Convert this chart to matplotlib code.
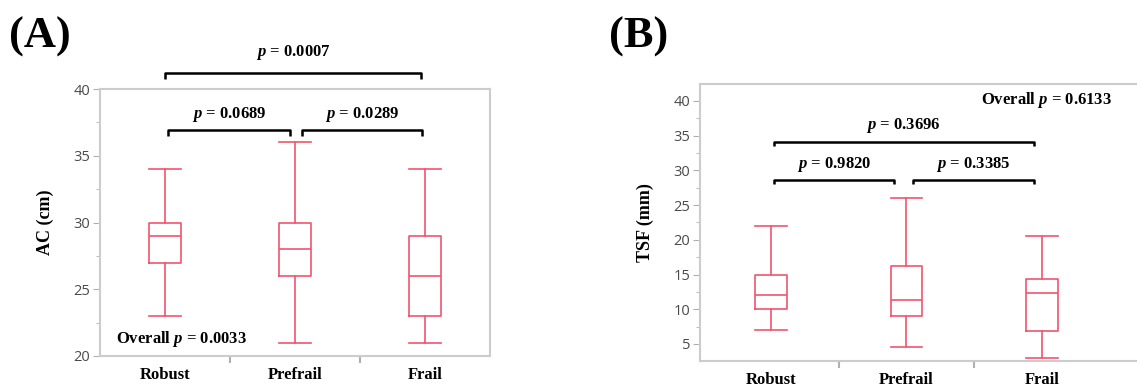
import matplotlib.pyplot as plt
from matplotlib.ticker import MultipleLocator, FixedLocator

plt.rcParams['mathtext.fontset'] = 'custom'
plt.rcParams['mathtext.it'] = 'Liberation Serif:italic:bold'
plt.rcParams['mathtext.rm'] = 'Liberation Serif:bold'

groups = ["Robust", "Prefrail", "Frail"]

# panel A: AC (cm)
acWhiskLo = [23, 21, 21]
acQ1 = [27, 26, 23]
acMed = [29, 28, 26]
acQ3 = [30, 30, 29]
acWhiskHi = [34, 36, 34]

# panel B: TSF (mm)
tsfWhiskLo = [7, 4.5, 3]
tsfQ1 = [10, 9, 6.8]
tsfMed = [12, 11.3, 12.3]
tsfQ3 = [15, 16.2, 14.3]
tsfWhiskHi = [22, 26, 20.5]

acPairs = ["0.0689", "0.0289", "0.0007"]
acOverall = "0.0033"
tsfPairs = ["0.9820", "0.3385", "0.3696"]
tsfOverall = "0.6133"

boxColor = '#f2546e'
serif = 'Liberation Serif'


def makeStats(lo, q1, med, q3, hi):
    return [dict(whislo=lo[i], q1=q1[i], med=med[i], q3=q3[i], whishi=hi[i],
                 fliers=[], label=groups[i]) for i in range(len(groups))]


def styleAxes(ax, ylim):
    ax.set_ylim(*ylim)
    for s in ax.spines.values():
        s.set_color('#cccccc')
        s.set_linewidth(1.5)
    ax.yaxis.set_major_locator(MultipleLocator(5))
    ax.yaxis.set_minor_locator(MultipleLocator(2.5))
    ax.tick_params(axis='y', which='major', length=5, color='#b0b0b0',
                   labelsize=10.5, labelcolor='#4a4a4a', pad=2)
    ax.tick_params(axis='y', which='minor', length=3, color='#b0b0b0')
    for lab in ax.get_yticklabels():
        lab.set_fontfamily('Open Sans')
    ax.set_xticks([0, 1, 2])
    ax.set_xticklabels(groups, fontfamily=serif, fontweight='bold', fontsize=12)
    ax.xaxis.set_minor_locator(FixedLocator([0.5, 1.5]))
    ax.tick_params(axis='x', which='major', length=0, pad=8)
    ax.tick_params(axis='x', which='minor', length=5, color='#b0b0b0', width=1.5)


def drawBoxes(ax, stats, width):
    ax.bxp(stats, positions=[0, 1, 2], widths=width, capwidths=width,
           showfliers=False, patch_artist=False,
           boxprops=dict(color=boxColor, lw=1.2),
           medianprops=dict(color=boxColor, lw=1.2),
           whiskerprops=dict(color=boxColor, lw=1.2),
           capprops=dict(color=boxColor, lw=1.2))


def bracket(ax, x0, x1, y, h, label, ty):
    ax.plot([x0, x0, x1, x1], [y - h, y, y, y - h], color='black', lw=1.8,
            clip_on=False, solid_capstyle='butt')
    ax.text((x0 + x1) / 2, ty, r"$p$ = " + label, ha='center', va='center',
            fontfamily=serif, fontweight='bold', fontsize=12, clip_on=False)


fig = plt.figure(figsize=(11.37, 3.88), dpi=100)

# ---------- (A)
axA = fig.add_axes([0.088, 0.0825, 0.343, 0.688])
drawBoxes(axA, makeStats(acWhiskLo, acQ1, acMed, acQ3, acWhiskHi), 0.24)
axA.set_xlim(-0.5, 2.5)
styleAxes(axA, (20, 40))
axA.set_ylabel("AC (cm)", fontfamily=serif, fontweight='bold', fontsize=13, labelpad=14)
bracket(axA, 0.02, 0.96, 36.9, 0.4, acPairs[0], 38.1)
bracket(axA, 1.05, 1.98, 36.9, 0.4, acPairs[1], 38.1)
bracket(axA, 0.0, 1.97, 41.2, 0.45, acPairs[2], 42.75)
axA.text(-0.38, 21.3, r"Overall $p$ = " + acOverall, ha='left', va='center',
         fontfamily=serif, fontweight='bold', fontsize=12)
fig.text(0.008, 0.905, "(A)", fontfamily=serif, fontweight='bold', fontsize=32,
         ha='left', va='center')

# ---------- (B)
axB = fig.add_axes([0.6157, 0.0696, 0.396, 0.714])
drawBoxes(axB, makeStats(tsfWhiskLo, tsfQ1, tsfMed, tsfQ3, tsfWhiskHi), 0.236)
axB.set_xlim(-0.524, 2.8)
styleAxes(axB, (2.55, 42.45))
axB.set_ylabel("TSF (mm)", fontfamily=serif, fontweight='bold', fontsize=13, labelpad=14)
bracket(axB, 0.02, 0.91, 28.6, 0.6, tsfPairs[0], 30.8)
bracket(axB, 1.05, 1.94, 28.6, 0.6, tsfPairs[1], 30.8)
bracket(axB, 0.02, 1.94, 34.1, 0.6, tsfPairs[2], 36.5)
axB.text(1.55, 40.1, r"Overall $p$ = " + tsfOverall, ha='left', va='center',
         fontfamily=serif, fontweight='bold', fontsize=12)
fig.text(0.536, 0.905, "(B)", fontfamily=serif, fontweight='bold', fontsize=32,
         ha='left', va='center')

fig.savefig("out.png", dpi=100)
